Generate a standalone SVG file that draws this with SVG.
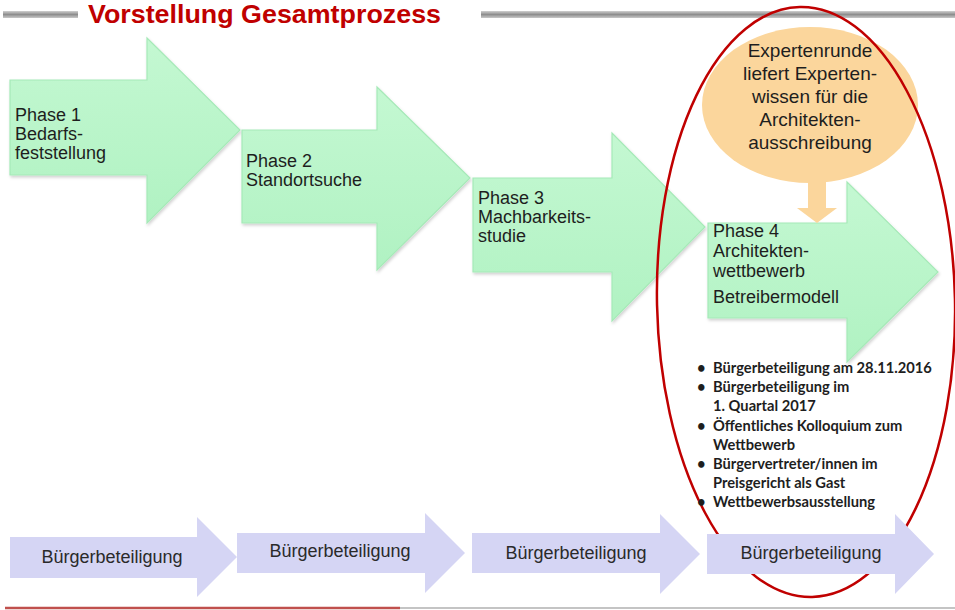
<svg xmlns="http://www.w3.org/2000/svg" width="955" height="610" viewBox="0 0 955 610">
<defs>
  <linearGradient id="bar" x1="0" y1="0" x2="0" y2="1">
    <stop offset="0" stop-color="#d0d0d0"/>
    <stop offset="0.5" stop-color="#8e8e8e"/>
    <stop offset="1" stop-color="#c8c8c8"/>
  </linearGradient>
  <linearGradient id="green" x1="0" y1="0" x2="0" y2="1">
    <stop offset="0" stop-color="#c4f8d2"/>
    <stop offset="1" stop-color="#b0f2c2"/>
  </linearGradient>
  <filter id="sh" x="-10%" y="-10%" width="125%" height="125%">
    <feDropShadow dx="1" dy="2" stdDeviation="1.5" flood-color="#000" flood-opacity="0.18"/>
  </filter>
</defs>
<style>
  .title{font-family:"Liberation Sans",Arial,sans-serif;font-weight:bold;font-size:25px;fill:#c00000}
  .ph{fill:url(#green);stroke:#a6e9b8;stroke-width:1.2;filter:url(#sh)}
  .pt{font-family:"Liberation Sans",Arial,sans-serif;font-size:18px;fill:#1e1e1e}
  .ot{font-family:"Liberation Sans",Arial,sans-serif;font-size:19px;fill:#1e1e1e;text-anchor:middle}
  .bl{fill:#d5d5f4}
  .bt{font-family:"Liberation Sans",Arial,sans-serif;font-size:18px;fill:#2a2a2a;text-anchor:middle}
  .li{font-family:Lato,"Liberation Sans",sans-serif;font-weight:bold;font-size:14.7px;fill:#1e1e1e}
</style>
<rect width="955" height="610" fill="#ffffff"/>

<g id="header">
  <rect x="3" y="11" width="75" height="7" fill="url(#bar)"/>
  <rect x="481" y="11" width="474" height="7" fill="url(#bar)"/>
  <text class="title" x="88" y="23" textLength="353" lengthAdjust="spacingAndGlyphs">Vorstellung Gesamtprozess</text>
</g>

<g id="phase1">
  <path class="ph" d="M10,80 H147 V38 L240,130 L147,223 V175 H10 Z"/>
  <text class="pt" x="15" y="121">Phase 1</text>
  <text class="pt" x="15" y="140">Bedarfs-</text>
  <text class="pt" x="15" y="159">feststellung</text>
</g>
<g id="phase2">
  <path class="ph" d="M242,130 H377 V87 L470,178 L377,270 V223 H242 Z"/>
  <text class="pt" x="246" y="167">Phase 2</text>
  <text class="pt" x="246" y="186">Standortsuche</text>
</g>
<g id="phase3">
  <path class="ph" d="M473,178 H612 V133 L705,227 L612,321 V272 H473 Z"/>
  <text class="pt" x="478" y="204">Phase 3</text>
  <text class="pt" x="478" y="223">Machbarkeits-</text>
  <text class="pt" x="478" y="242">studie</text>
</g>
<g id="phase4">
  <path class="ph" d="M708,223 H847 V182 L938,272 L847,362 V318 H708 Z"/>
  <text class="pt" x="713" y="237">Phase 4</text>
  <text class="pt" x="713" y="257">Architekten-</text>
  <text class="pt" x="713" y="277">wettbewerb</text>
  <text class="pt" x="713" y="303">Betreibermodell</text>
</g>

<g id="experten">
  <ellipse cx="810" cy="105" rx="108" ry="78" fill="#fbd69c"/>
  <text class="ot" x="810" y="57">Expertenrunde</text>
  <text class="ot" x="810" y="80">liefert Experten-</text>
  <text class="ot" x="810" y="103">wissen für die</text>
  <text class="ot" x="810" y="126">Architekten-</text>
  <text class="ot" x="810" y="149">ausschreibung</text>
</g>

<g id="connectors">
  <path d="M808,181 H826 V208 H837 L817,223 L797,208 H808 Z" fill="#fbd69c"/>
</g>

<g id="phase4-circle">
  <ellipse cx="0" cy="0" rx="149" ry="295" fill="none" stroke="#c00000" stroke-width="2.5" transform="translate(806,302) rotate(-1.2)"/>
</g>

<g id="bullets">
  <text class="li" x="697" y="373">•</text>
  <text class="li" x="713" y="373">Bürgerbeteiligung am 28.11.2016</text>
  <text class="li" x="697" y="392">•</text>
  <text class="li" x="713" y="392">Bürgerbeteiligung im</text>
  <text class="li" x="713" y="411">1. Quartal 2017</text>
  <text class="li" x="697" y="431">•</text>
  <text class="li" x="713" y="431">Öffentliches Kolloquium zum</text>
  <text class="li" x="713" y="450">Wettbewerb</text>
  <text class="li" x="697" y="469">•</text>
  <text class="li" x="713" y="469">Bürgervertreter/innen im</text>
  <text class="li" x="713" y="488">Preisgericht als Gast</text>
  <text class="li" x="697" y="507">•</text>
  <text class="li" x="713" y="507">Wettbewerbsausstellung</text>
</g>

<g id="buerger1">
  <path class="bl" d="M10,537 H197 V517 L237,557 L197,597 V578 H10 Z"/>
  <text class="bt" x="112" y="563">Bürgerbeteiligung</text>
</g>
<g id="buerger2">
  <path class="bl" d="M237,533 H425 V513 L465,553 L425,593 V573 H237 Z"/>
  <text class="bt" x="340" y="557">Bürgerbeteiligung</text>
</g>
<g id="buerger3">
  <path class="bl" d="M472,533 H660 V514 L700,554 L660,594 V573 H472 Z"/>
  <text class="bt" x="576" y="559">Bürgerbeteiligung</text>
</g>
<g id="buerger4">
  <path class="bl" d="M707,534 H895 V514 L934,554 L895,594 V574 H707 Z"/>
  <text class="bt" x="811" y="559">Bürgerbeteiligung</text>
</g>

<g id="footer">
  <line x1="400" y1="608" x2="955" y2="608" stroke="#b0b0b0" stroke-width="1.5"/>
  <line x1="5" y1="608" x2="400" y2="608" stroke="#c0504d" stroke-width="2.5"/>
</g>
</svg>
